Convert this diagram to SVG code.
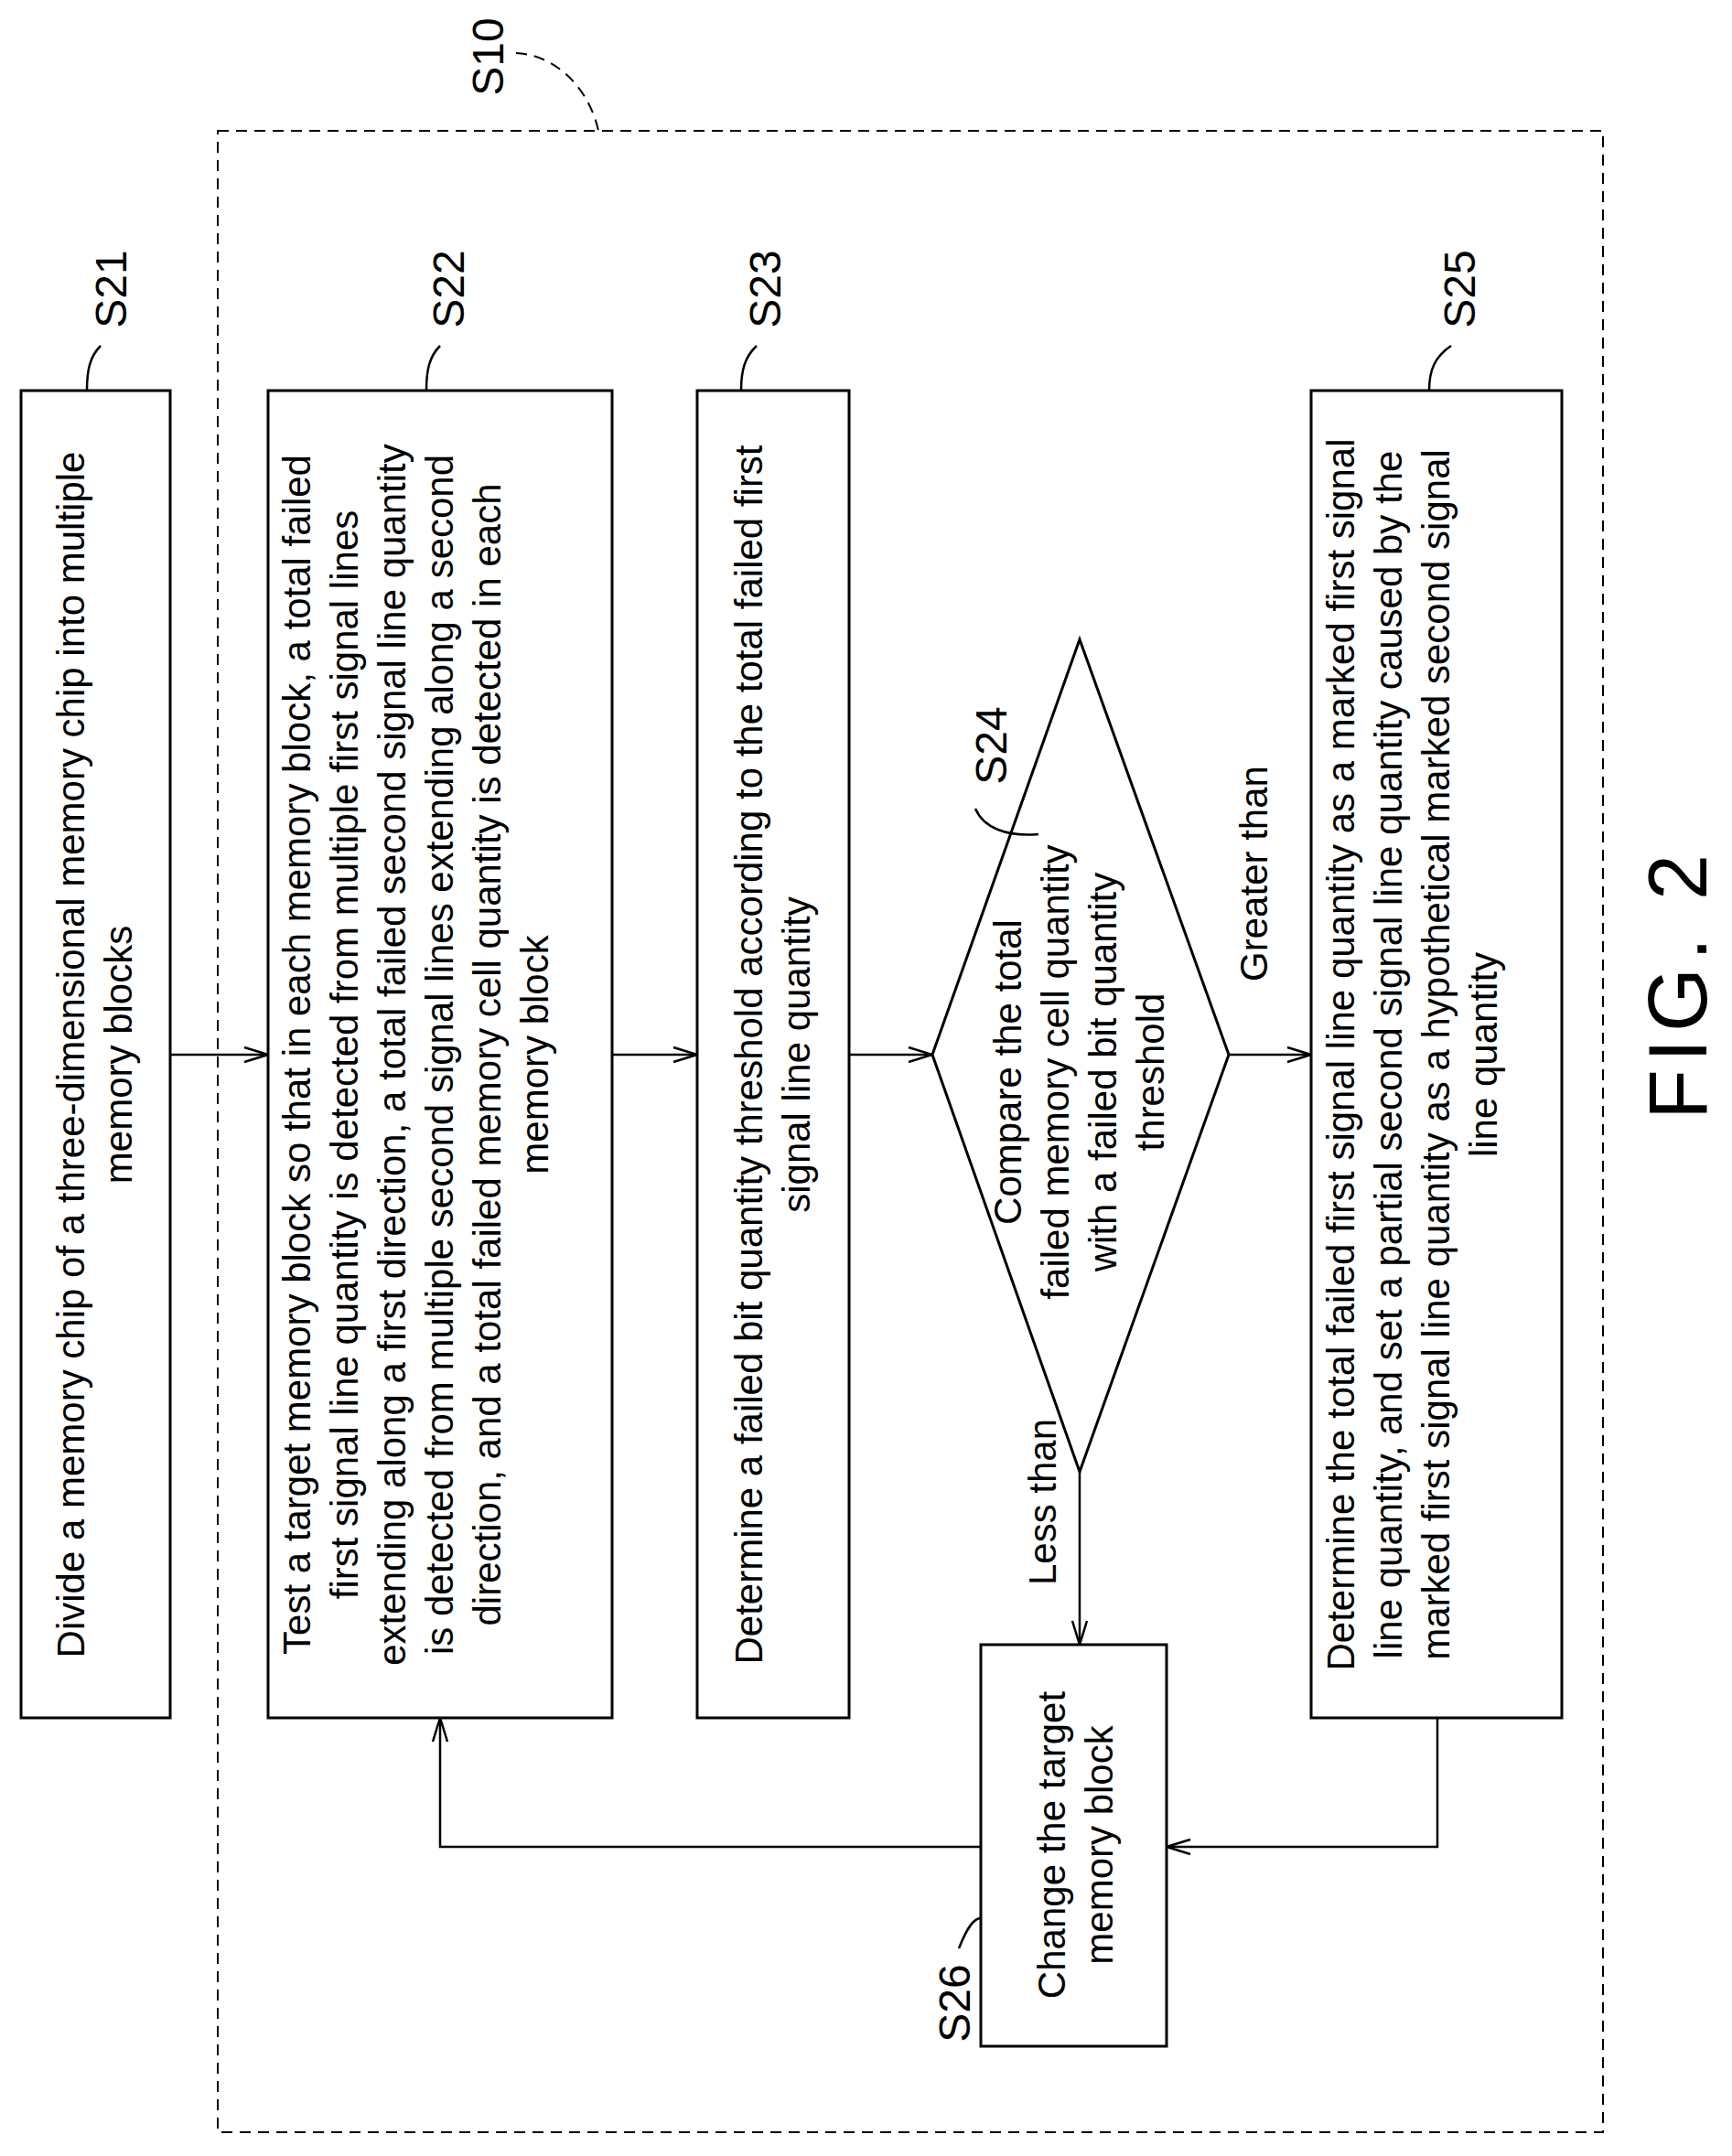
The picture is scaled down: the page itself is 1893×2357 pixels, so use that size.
<svg xmlns="http://www.w3.org/2000/svg" width="1893" height="2357" viewBox="0 0 1893 2357">
<style>
.b{fill:#fff;stroke:#000;stroke-width:3}
.t{font-family:"Liberation Sans Narrow","Liberation Sans",Arial,sans-serif;font-size:42px;text-anchor:middle}
.l{font-family:"Liberation Sans Narrow","Liberation Sans",Arial,sans-serif;font-size:48px;text-anchor:middle}
.c{fill:none;stroke:#000;stroke-width:2.5}
.d{fill:none;stroke:#000;stroke-width:2;stroke-dasharray:12,8}
</style>
<defs><marker id="a" markerWidth="30" markerHeight="20" refX="28" refY="10" orient="auto" markerUnits="userSpaceOnUse"><polyline points="2,2 28,10 2,18" fill="none" stroke="#000" stroke-width="2.5"/></marker></defs>
<rect width="1893" height="2357" fill="#fff"/>
<g id="S10"><rect class="d" x="238" y="143" width="1514" height="2188"/><path class="d" d="M564,58 C610,60 645,100 654,143"/><text class="l" transform="translate(550,62) rotate(-90)">S10</text></g>
<g id="connectors" class="c">
<line x1="186" y1="1153" x2="293" y2="1153" marker-end="url(#a)"/>
<line x1="669" y1="1153" x2="762" y2="1153" marker-end="url(#a)"/>
<line x1="928" y1="1153" x2="1019" y2="1153" marker-end="url(#a)"/>
<line x1="1343" y1="1153" x2="1433" y2="1153" marker-end="url(#a)"/>
<line x1="1180" y1="1609" x2="1180" y2="1798" marker-end="url(#a)"/>
<polyline points="1571,1878 1571,2019 1275,2019" marker-end="url(#a)"/>
<polyline points="1072,2019 481,2019 481,1878" marker-end="url(#a)"/>
</g>
<g id="S21"><rect class="b" x="23" y="427" width="163" height="1451"/>
<text class="t" transform="translate(92,1153) rotate(-90)">Divide a memory chip of a three-dimensional memory chip into multiple</text>
<text class="t" transform="translate(144,1153) rotate(-90)">memory blocks</text>
<path class="c" d="M110,378 C98,390 95,405 95,427"/><text class="l" transform="translate(138,316) rotate(-90)">S21</text></g>
<g id="S22"><rect class="b" x="293" y="427" width="376" height="1451"/>
<text class="t" transform="translate(339,1153) rotate(-90)">Test a target memory block so that in each memory block, a total failed</text>
<text class="t" transform="translate(391,1153) rotate(-90)">first signal line quantity is detected from multiple first signal lines</text>
<text class="t" transform="translate(443,1153) rotate(-90)">extending along a first direction, a total failed second signal line quantity</text>
<text class="t" transform="translate(495,1153) rotate(-90)">is detected from multiple second signal lines extending along a second</text>
<text class="t" transform="translate(547,1153) rotate(-90)">direction, and a total failed memory cell quantity is detected in each</text>
<text class="t" transform="translate(599,1153) rotate(-90)">memory block</text>
<path class="c" d="M481,378 C469,390 466,405 466,427"/><text class="l" transform="translate(507,316) rotate(-90)">S22</text></g>
<g id="S23"><rect class="b" x="762" y="427" width="166" height="1451"/>
<text class="t" transform="translate(833,1153) rotate(-90)">Determine a failed bit quantity threshold according to the total failed first</text>
<text class="t" transform="translate(885,1153) rotate(-90)">signal line quantity</text>
<path class="c" d="M827,378 C814,390 810,405 810,427"/><text class="l" transform="translate(853,316) rotate(-90)">S23</text></g>
<g id="S24"><polygon class="b" points="1180,699 1343,1153 1180,1609 1019,1153"/>
<text class="t" transform="translate(1116,1172) rotate(-90)">Compare the total</text>
<text class="t" transform="translate(1168,1172) rotate(-90)">failed memory cell quantity</text>
<text class="t" transform="translate(1220,1172) rotate(-90)">with a failed bit quantity</text>
<text class="t" transform="translate(1272,1172) rotate(-90)">threshold</text>
<path class="c" d="M1066,884 C1075,905 1100,915 1135,912"/><text class="l" transform="translate(1100,815) rotate(-90)">S24</text></g>
<text class="t" transform="translate(1385,955) rotate(-90)">Greater than</text>
<text class="t" transform="translate(1154,1642) rotate(-90)">Less than</text>
<g id="S25"><rect class="b" x="1433" y="427" width="274" height="1451"/>
<text class="t" transform="translate(1480,1153) rotate(-90)">Determine the total failed first signal line quantity as a marked first signal</text>
<text class="t" transform="translate(1532,1153) rotate(-90)">line quantity, and set a partial second signal line quantity caused by the</text>
<text class="t" transform="translate(1584,1153) rotate(-90)">marked first signal line quantity as a hypothetical marked second signal</text>
<text class="t" transform="translate(1636,1153) rotate(-90)">line quantity</text>
<path class="c" d="M1586,378 C1568,390 1562,405 1562,427"/><text class="l" transform="translate(1612,316) rotate(-90)">S25</text></g>
<g id="S26"><rect class="b" x="1072" y="1798" width="203" height="439"/>
<text class="t" transform="translate(1164,2017) rotate(-90)">Change the target</text>
<text class="t" transform="translate(1216,2017) rotate(-90)">memory block</text>
<path class="c" d="M1048,2130 C1058,2105 1065,2097 1072,2097"/><text class="l" transform="translate(1060,2190) rotate(-90)">S26</text></g>
<text transform="translate(1865,1075) rotate(-90)" style="font-family:'Liberation Sans',Arial,sans-serif;font-size:90px;text-anchor:middle;letter-spacing:8px">FIG. 2</text>
</svg>
